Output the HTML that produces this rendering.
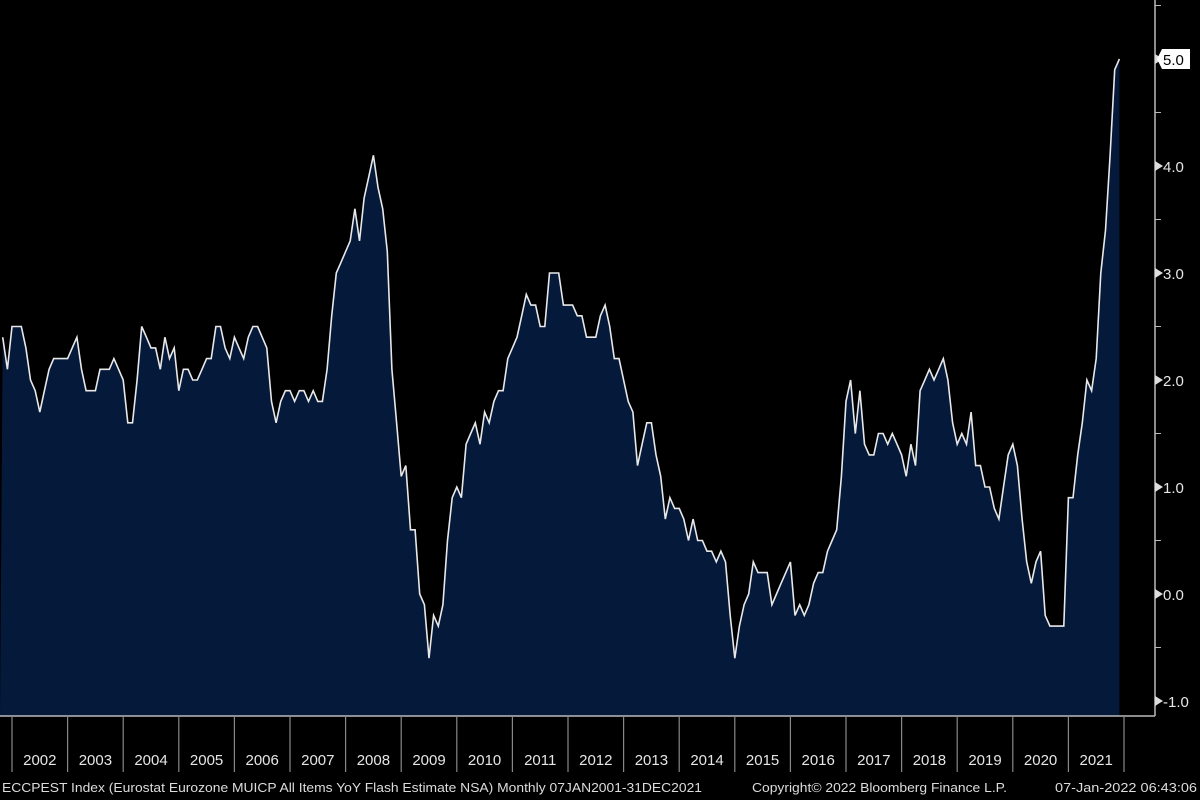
<!DOCTYPE html>
<html><head><meta charset="utf-8"><style>
html,body{margin:0;padding:0;background:#000;width:1200px;height:800px;overflow:hidden}
svg{display:block}
text{font-family:"Liberation Sans",sans-serif}
</style></head><body>
<svg id="s" width="1200" height="800" viewBox="0 0 1200 800">
<rect width="1200" height="800" fill="#000"/>
<path id="area" fill="#05193a"/>
<path id="line" fill="none" stroke="#e8e8e8" stroke-width="1.6"/>
<line x1="0" y1="716" x2="1155" y2="716" stroke="#bbb" stroke-width="1.5"/>
<line x1="1155" y1="0" x2="1155" y2="716" stroke="#bbb" stroke-width="1.5"/>
<g id="ticks"></g>
<g id="ylab" font-size="15" fill="#e6e6e6"></g>
<g id="xlab" font-size="15" fill="#e6e6e6" text-anchor="middle"></g>
<text x="2" y="792" font-size="13" fill="#dcdcdc" textLength="700" lengthAdjust="spacingAndGlyphs">ECCPEST Index (Eurostat Eurozone MUICP All Items YoY Flash Estimate NSA)  Monthly 07JAN2001-31DEC2021</text>
<text x="752" y="792" font-size="13" fill="#dcdcdc" textLength="255" lengthAdjust="spacingAndGlyphs">Copyright© 2022 Bloomberg Finance L.P.</text>
<text x="1055" y="792" font-size="13" fill="#dcdcdc" textLength="142" lengthAdjust="spacingAndGlyphs">07-Jan-2022 06:43:06</text>
</svg>
<script>
var d=[2.4,2.1,
2.5,2.5,2.5,2.3,2.0,1.9,1.7,1.9,2.1,2.2,2.2,2.2,
2.2,2.3,2.4,2.1,1.9,1.9,1.9,2.1,2.1,2.1,2.2,2.1,
2.0,1.6,1.6,2.0,2.5,2.4,2.3,2.3,2.1,2.4,2.2,2.3,
1.9,2.1,2.1,2.0,2.0,2.1,2.2,2.2,2.5,2.5,2.3,2.2,
2.4,2.3,2.2,2.4,2.5,2.5,2.4,2.3,1.8,1.6,1.8,1.9,
1.9,1.8,1.9,1.9,1.8,1.9,1.8,1.8,2.1,2.6,3.0,3.1,
3.2,3.3,3.6,3.3,3.7,3.9,4.1,3.8,3.6,3.2,2.1,1.6,
1.1,1.2,0.6,0.6,0.0,-0.1,-0.6,-0.2,-0.3,-0.1,0.5,0.9,
1.0,0.9,1.4,1.5,1.6,1.4,1.7,1.6,1.8,1.9,1.9,2.2,
2.3,2.4,2.6,2.8,2.7,2.7,2.5,2.5,3.0,3.0,3.0,2.7,
2.7,2.7,2.6,2.6,2.4,2.4,2.4,2.6,2.7,2.5,2.2,2.2,
2.0,1.8,1.7,1.2,1.4,1.6,1.6,1.3,1.1,0.7,0.9,0.8,
0.8,0.7,0.5,0.7,0.5,0.5,0.4,0.4,0.3,0.4,0.3,-0.2,
-0.6,-0.3,-0.1,0.0,0.3,0.2,0.2,0.2,-0.1,0.0,0.1,0.2,
0.3,-0.2,-0.1,-0.2,-0.1,0.1,0.2,0.2,0.4,0.5,0.6,1.1,
1.8,2.0,1.5,1.9,1.4,1.3,1.3,1.5,1.5,1.4,1.5,1.4,
1.3,1.1,1.4,1.2,1.9,2.0,2.1,2.0,2.1,2.2,2.0,1.6,
1.4,1.5,1.4,1.7,1.2,1.2,1.0,1.0,0.8,0.7,1.0,1.3,
1.4,1.2,0.7,0.3,0.1,0.3,0.4,-0.2,-0.3,-0.3,-0.3,-0.3,
0.9,0.9,1.3,1.6,2.0,1.9,2.2,3.0,3.4,4.1,4.9,5.0];
var x0=12,ys=55.6,ms=ys/12;
function X(i){return x0+(i-2)*ms}
function Y(v){return 594-107*v}
var p="",a="";
for(var i=0;i<d.length;i++){var x=Math.max(0,X(i)).toFixed(1),y=Y(d[i]).toFixed(1);p+=(i?"L":"M")+x+","+y;}
a="M0,716L"+p.slice(1)+"L"+X(d.length-1).toFixed(1)+",716Z";
document.getElementById("line").setAttribute("d",p);
document.getElementById("area").setAttribute("d",a);
var t="",xl="",yl="";
for(var k=0;k<=20;k++){var x=x0+k*ys;t+='<line x1="'+x+'" y1="716" x2="'+x+'" y2="772" stroke="#888" stroke-width="1.2"/>';
if(k<20)xl+='<text x="'+(x+ys/2)+'" y="765">'+(2002+k)+'</text>';}
for(var v=-1;v<=5;v++){var y=Y(v);t+='<polygon points="1155,'+(y-5)+' 1163,'+y+' 1155,'+(y+5)+'" fill="#ddd"/>';
if(v<5)yl+='<text x="1163" y="'+(y+6)+'">'+(v<0?"-1.0":v+".0")+'</text>';}
for(var v=-0.5;v<=5.5;v+=1){var y=Y(v);t+='<line x1="1155" y1="'+y+'" x2="1161" y2="'+y+'" stroke="#bbb"/>';}
t+='<path d="M1157,59 L1162,49 L1190,49 L1190,69 L1162,69Z" fill="#fff"/>';
yl+='<text x="1163" y="65" fill="#000">5.0</text>';
document.getElementById("ticks").innerHTML=t;
document.getElementById("xlab").innerHTML=xl;
document.getElementById("ylab").innerHTML=yl;
</script>
</body></html>
